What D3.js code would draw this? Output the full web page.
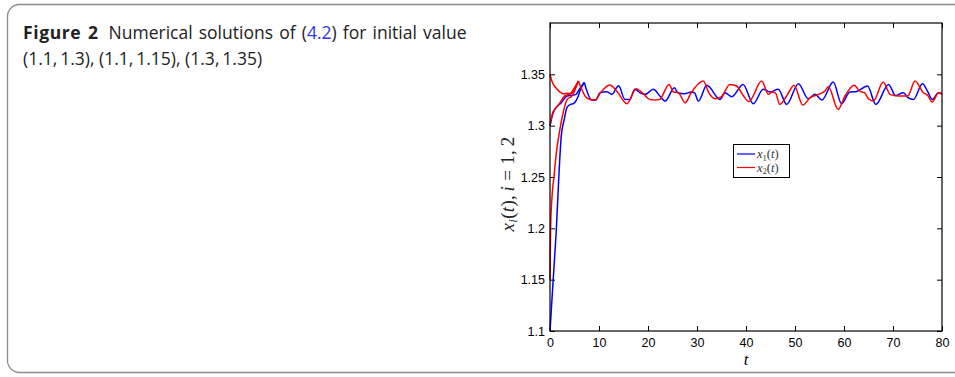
<!DOCTYPE html>
<html>
<head>
<meta charset="utf-8">
<script src="https://cdn.jsdelivr.net/npm/d3@7"></script>
<style>
  html, body { margin: 0; padding: 0; background: #fff; }
  svg { display: block; }
</style>
</head>
<body>
<script>
// Chart data: [t, value] pairs

// x1 after the transients have merged
const x1Steady = [
  [7.0, 1.342], [8.5, 1.325], [9.3, 1.3248], [10.2, 1.332], [11.6, 1.3331], [12.6, 1.3305],
  [14.0, 1.3388], [15.3, 1.3256], [16.3, 1.3256], [17.3, 1.3354], [18.4, 1.332], [19.4, 1.3305],
  [21.1, 1.3354], [22.4, 1.3289], [23.5, 1.324], [25.4, 1.337], [26.1, 1.332], [27.4, 1.3311],
  [28.9, 1.3328], [29.5, 1.332], [30.3, 1.324], [32.0, 1.3393], [34.7, 1.3256], [35.7, 1.3321],
  [37.1, 1.3282], [39.4, 1.340], [41.5, 1.3214], [43.5, 1.3354], [44.9, 1.3328], [46.6, 1.3354],
  [48.3, 1.3207], [50.7, 1.3409], [52.7, 1.3262], [54.1, 1.3305], [55.5, 1.3249], [57.8, 1.3425],
  [59.5, 1.3214], [61.2, 1.3328], [62.4, 1.3331], [64.8, 1.3386], [66.5, 1.3207], [69.1, 1.3402],
  [70.5, 1.3295], [72.1, 1.3321], [73.1, 1.3272], [74.2, 1.3256], [76.0, 1.3409], [77.2, 1.3321],
  [78.0, 1.3256], [79.3, 1.3321], [80.0, 1.3311]
];

// x2 after the transients have merged
const x2Steady = [
  [5.8, 1.3435], [7.5, 1.327], [8.5, 1.3253], [9.3, 1.3253], [10.3, 1.332], [12.2, 1.3396],
  [13.6, 1.3337], [15.7, 1.3214], [17.6, 1.336], [18.8, 1.3321], [20.3, 1.3256], [21.5, 1.3249],
  [22.4, 1.3256], [24.3, 1.3402], [25.2, 1.3328], [26.2, 1.3321], [27.6, 1.3223], [28.8, 1.3321],
  [31.3, 1.3435], [32.4, 1.3321], [33.7, 1.3262], [35.0, 1.3282], [36.7, 1.3402], [38.1, 1.3386],
  [39.5, 1.3289], [40.6, 1.3235], [43.2, 1.3435], [44.6, 1.3305], [45.3, 1.3328], [46.0, 1.332],
  [46.9, 1.3207], [48.3, 1.3289], [49.8, 1.3393], [51.6, 1.3201], [53.1, 1.3272], [54.8, 1.3305],
  [56.1, 1.3337], [56.8, 1.338], [58.8, 1.3158], [60.2, 1.3289], [62.1, 1.3393], [63.2, 1.3337],
  [64.2, 1.3321], [65.0, 1.3262], [66.0, 1.324], [68.0, 1.3425], [69.4, 1.3305], [71.0, 1.3289],
  [73.0, 1.3289], [74.5, 1.3435], [76.2, 1.3321], [77.0, 1.33], [78.0, 1.323], [79.3, 1.3321],
  [80.0, 1.3305]
];

// transients for the three initial values
const x1From110 = [
  [0, 1.1], [0.65, 1.15], [1.3, 1.2], [1.8, 1.25], [2.3, 1.29], [2.9, 1.306], [3.5, 1.318],
  [4.2, 1.3207], [4.8, 1.3215], [5.6, 1.327], [6.2, 1.335], [7.0, 1.342]
];
const x1From130 = [
  [0, 1.3], [0.5, 1.31], [1.0, 1.316], [2.3, 1.3224], [3.5, 1.329], [4.5, 1.3295],
  [5.3, 1.3305], [6.2, 1.337], [7.0, 1.342]
];
const x2From130 = [
  [0, 1.3], [0.5, 1.312], [1.0, 1.316], [2.0, 1.322], [3.0, 1.329], [4.1, 1.331],
  [5.0, 1.337], [5.8, 1.3435]
];
const x2From115 = [
  [0, 1.15], [0.12, 1.2], [0.4, 1.23], [0.8, 1.25], [1.3, 1.274], [2.0, 1.296], [2.7, 1.313],
  [3.5, 1.3256], [4.5, 1.329], [5.2, 1.336], [5.8, 1.3435]
];
const x2From135 = [
  [0, 1.35], [0.5, 1.342], [1.2, 1.337], [2.0, 1.333], [2.8, 1.331], [3.5, 1.3315],
  [4.3, 1.331], [5.0, 1.336], [5.8, 1.3435]
];

const xTicks = [0, 10, 20, 30, 40, 50, 60, 70, 80];
const yTicks = [1.1, 1.15, 1.2, 1.25, 1.3, 1.35];
const legendItems = [
  { sub: '1', color: '#0000ff' },
  { sub: '2', color: '#ff0000' }
];

const width = 955;
const height = 377;
const plot = { left: 550, right: 942, top: 23, bottom: 331 };

const svg = d3.select('body')
  .append('svg')
  .attr('width', width)
  .attr('height', height);

// card border
svg.append('rect')
  .attr('x', 7.5)
  .attr('y', 4.5)
  .attr('width', 1000)
  .attr('height', 368)
  .attr('rx', 12)
  .attr('fill', 'none')
  .attr('stroke', '#8c8c8c')
  .attr('stroke-width', 1.3);

// caption
const cap = svg.append('g')
  .style('font-family', '"Open Sans", sans-serif')
  .style('font-size', '17.5px')
  .attr('fill', '#222');

const line1 = cap.append('text').attr('x', 23).attr('y', 39).style('word-spacing', '1.6px');
line1.append('tspan').style('font-weight', 'bold').style('letter-spacing', '0.6px').text('Figure 2');
line1.append('tspan').attr('dx', 10).text('Numerical solutions of (');
line1.append('tspan').attr('fill', '#3333ee').text('4.2');
line1.append('tspan').text(') for initial value');

cap.append('text')
  .attr('x', 23)
  .attr('y', 65)
  .text('(1.1,\u20091.3), (1.1,\u20091.15), (1.3,\u20091.35)');

// scales
const x = d3.scaleLinear().domain([0, 80]).range([plot.left, plot.right]);
const y = d3.scaleLinear().domain([1.1, 1.4]).range([plot.bottom, plot.top]);

const axisFont = g => g.selectAll('text')
  .style('font-family', '"Liberation Sans", Arial, sans-serif')
  .style('font-size', '12.5px')
  .attr('fill', '#000');

svg.append('g')
  .attr('transform', `translate(0,${plot.bottom})`)
  .call(d3.axisBottom(x).tickValues(xTicks).tickSize(-5).tickPadding(7.5).tickFormat(d3.format('d')))
  .call(g => g.select('.domain').remove())
  .call(axisFont);

svg.append('g')
  .attr('transform', `translate(${plot.left},0)`)
  .call(d3.axisLeft(y).tickValues(yTicks).tickSize(-5).tickPadding(5).tickFormat(d => String(+d.toFixed(2))))
  .call(g => g.select('.domain').remove())
  .call(axisFont);

svg.append('g')
  .attr('transform', `translate(0,${plot.top})`)
  .call(d3.axisTop(x).tickValues(xTicks).tickSize(-5).tickFormat(''))
  .call(g => g.select('.domain').remove());

svg.append('g')
  .attr('transform', `translate(${plot.right},0)`)
  .call(d3.axisRight(y).tickValues(yTicks).tickSize(-5).tickFormat(''))
  .call(g => g.select('.domain').remove());

// curves
const line = d3.line()
  .x(d => x(d[0]))
  .y(d => y(d[1]))
  .curve(d3.curveMonotoneX);

const curves = [
  { data: x1From110, color: '#0000ff' },
  { data: x1From130, color: '#0000ff' },
  { data: x2From130, color: '#ff0000' },
  { data: x2From115, color: '#ff0000' },
  { data: x2From135, color: '#ff0000' },
  { data: x1Steady, color: '#0000ff' },
  { data: x2Steady, color: '#ff0000' }
];

svg.append('g')
  .selectAll('path')
  .data(curves)
  .enter()
  .append('path')
  .attr('d', d => line(d.data))
  .attr('fill', 'none')
  .attr('stroke', d => d.color)
  .attr('stroke-width', 1.5)
  .attr('stroke-linejoin', 'round');

// plot frame
svg.append('rect')
  .attr('x', plot.left)
  .attr('y', plot.top)
  .attr('width', plot.right - plot.left)
  .attr('height', plot.bottom - plot.top)
  .attr('fill', 'none')
  .attr('stroke', '#000')
  .attr('stroke-width', 1.2);

// axis labels
const mathFont = '"Liberation Serif", "Times New Roman", serif';

svg.append('text')
  .attr('x', (plot.left + plot.right) / 2)
  .attr('y', 365)
  .attr('text-anchor', 'middle')
  .style('font-family', mathFont)
  .style('font-style', 'italic')
  .style('font-size', '17px')
  .text('t');

const yLabel = svg.append('text')
  .attr('transform', 'translate(514,184) rotate(-90)')
  .attr('text-anchor', 'middle')
  .style('font-family', mathFont)
  .style('font-size', '19px')
  .style('letter-spacing', '0.3px')
  .attr('fill', '#222');
yLabel.append('tspan').style('font-style', 'italic').text('x');
yLabel.append('tspan').style('font-style', 'italic').style('font-size', '13px').attr('dy', 3).text('i');
yLabel.append('tspan').attr('dy', -3).text('(');
yLabel.append('tspan').style('font-style', 'italic').text('t');
yLabel.append('tspan').text('),\u2006');
yLabel.append('tspan').style('font-style', 'italic').text('i');
yLabel.append('tspan').text('\u2005=\u20051,\u20062');

// legend
const legend = svg.append('g').attr('transform', 'translate(733,144)');

legend.append('rect')
  .attr('x', 0.5)
  .attr('y', 0.5)
  .attr('width', 56)
  .attr('height', 33)
  .attr('fill', '#fff')
  .attr('stroke', '#000')
  .attr('stroke-width', 1);

const rows = legend.selectAll('g.row')
  .data(legendItems)
  .enter()
  .append('g')
  .attr('class', 'row')
  .attr('transform', (d, i) => `translate(0,${10 + i * 13.5})`);

rows.append('line')
  .attr('x1', 4)
  .attr('x2', 22)
  .attr('stroke', d => d.color)
  .attr('stroke-width', 1.2);

const lt = rows.append('text')
  .attr('x', 24)
  .attr('y', 4)
  .style('font-family', mathFont)
  .style('font-size', '12.5px')
  .attr('fill', '#333');
lt.append('tspan').style('font-style', 'italic').text('x');
lt.append('tspan').style('font-size', '8.5px').attr('dy', 2.5).text(d => d.sub);
lt.append('tspan').attr('dy', -2.5).text('(');
lt.append('tspan').style('font-style', 'italic').text('t');
lt.append('tspan').text(')');
</script>
</body>
</html>
